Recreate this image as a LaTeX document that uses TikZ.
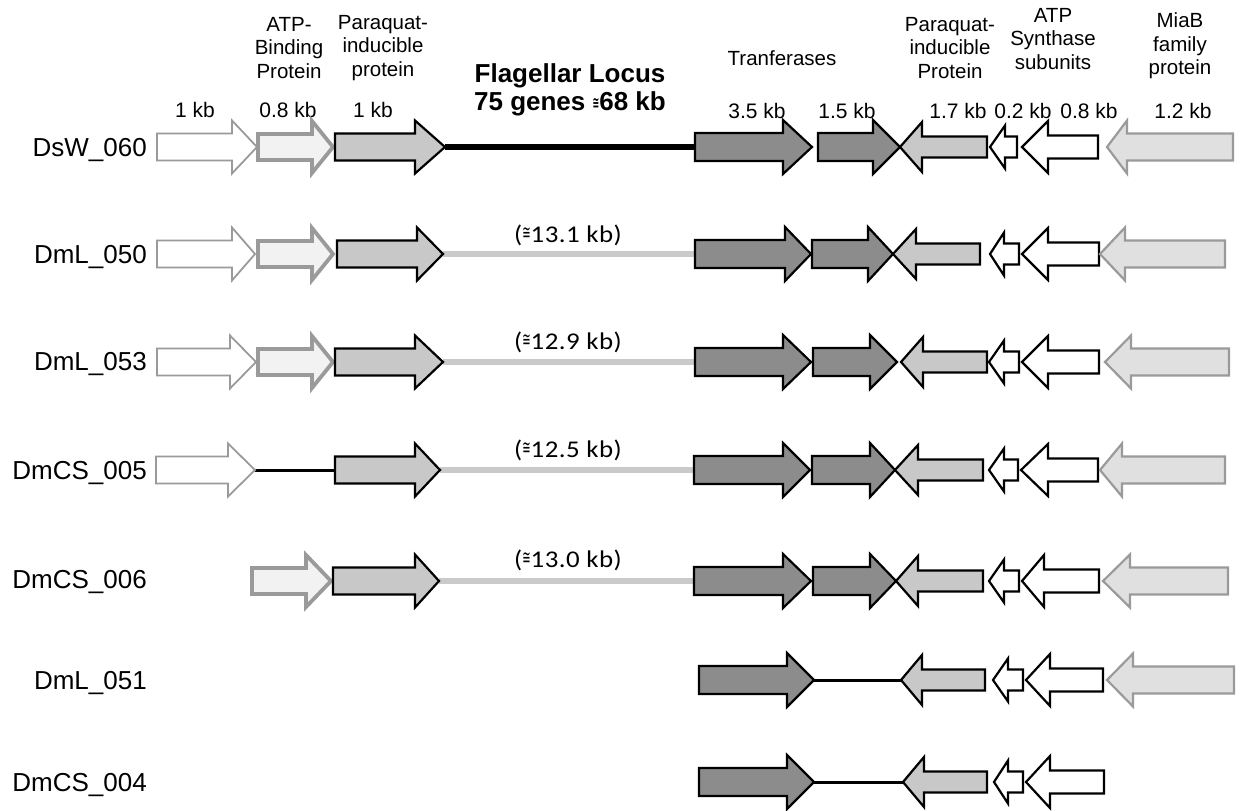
\documentclass[tikz,border=0pt]{standalone}
\usepackage{fontspec}
\usepackage{graphicx}
\setmainfont{Liberation Sans}
\newfontfamily\calfont[FakeStretch=1.12, LetterSpace=2]{Carlito}
\newfontfamily\dejavu{DejaVu Sans}
\usetikzlibrary{backgrounds}

% gene arrow: #1 name, #2 style, #3 tail x, #4 head-base x, #5 tip x, #6 y, #7 body half-height, #8 head half-height
\newcommand{\genearrow}[8]{%
  \draw[#2] (#3,#6-#7) -- (#4,#6-#7) -- (#4,#6-#8) -- (#5,#6) -- (#4,#6+#8)
    -- (#4,#6+#7) -- (#3,#6+#7) -- cycle;
  \coordinate (#1-tail) at (#3,#6);
  \coordinate (#1-tip) at (#5,#6);}
% narrow "approximately equal" sign: #1 size, #2 raise
\newcommand{\cg}[2]{\raisebox{#2}{\scalebox{0.5}[1]{\dejavu\fontsize{#1}{#1}\selectfont ≅}}}

\definecolor{transfill}{HTML}{8C8C8C}
\definecolor{parafill}{HTML}{C8C8C8}
\definecolor{bindfill}{HTML}{F2F2F2}
\definecolor{miabfill}{HTML}{E0E0E0}
\definecolor{softedge}{HTML}{9A9A9A}
\definecolor{gapgray}{HTML}{CACACA}

\tikzset{
  genewhite/.style={draw=softedge, line width=1.8pt, fill=white, line join=miter},
  genebind/.style={draw=softedge, line width=3.8pt, fill=bindfill, line join=miter},
  geneparaq/.style={draw=black, line width=2.2pt, fill=parafill, line join=miter},
  genetrans/.style={draw=black, line width=2.2pt, fill=transfill, line join=miter},
  genesynth/.style={draw=black, line width=2.2pt, fill=white, line join=miter},
  genemiab/.style={draw=softedge, line width=2.2pt, fill=miabfill, line join=miter},
  locusline/.style={draw=black, line width=6pt},
  gapline/.style={draw=gapgray, line width=6.5pt},
  linkline/.style={draw=black, line width=3pt},
  strain/.style={anchor=base east, inner sep=0pt, font=\fontsize{26}{28}\selectfont},
  kb/.style={anchor=base, inner sep=0pt, font=\fontsize{21}{24}\selectfont},
  head/.style={align=center, inner sep=0pt, font=\fontsize{20.5}{23.5}\selectfont},
  gaptext/.style={anchor=base, inner sep=0pt, font=\calfont\fontsize{24}{26}\selectfont},
}

\begin{document}
\begin{tikzpicture}[x=1pt, y=-1pt]
\useasboundingbox (0,0) rectangle (1243,811);

% ---------- headers ----------
\node[head] (hbind) at (289,48) {ATP-\\Binding\\Protein};
\node[head] (hparaL) at (383,48) {Paraquat-\\inducible\\protein};
\node[align=center, inner sep=0pt, font=\bfseries\fontsize{26}{28}\selectfont] (hflag) at (570,90)
  {Flagellar Locus\\75 genes \cg{16}{2pt}68 kb};
\node[head, anchor=base] (htrans) at (782,65) {Tranferases};
\node[head] (hparaR) at (950,48) {Paraquat-\\inducible\\Protein};
\node[head] (hsynth) at (1053,39) {ATP\\Synthase\\subunits};
\node[head] (hmiab) at (1180,46) {MiaB\\family\\protein};

\node[kb] (k1) at (195,117.5) {1 kb};
\node[kb] (k2) at (288,117.5) {0.8 kb};
\node[kb] (k3) at (373,117.5) {1 kb};
\node[kb] (k4) at (757,118) {3.5 kb};
\node[kb] (k5) at (847,118) {1.5 kb};
\node[kb] (k6) at (958,118) {1.7 kb};
\node[kb] (k7) at (1023,118) {0.2 kb};
\node[kb] (k8) at (1089,118) {0.8 kb};
\node[kb] (k9) at (1183,118) {1.2 kb};

% ---------- strain labels ----------
\node[strain] (s1) at (147,156) {DsW\_060};
\node[strain] (s2) at (147,263) {DmL\_050};
\node[strain] (s3) at (147,370) {DmL\_053};
\node[strain] (s4) at (147,479) {DmCS\_005};
\node[strain] (s5) at (147,588) {DmCS\_006};
\node[strain] (s6) at (147,689) {DmL\_051};
\node[strain] (s7) at (147,791) {DmCS\_004};

% ---------- gap sizes ----------
\node[gaptext] (g2) at (568,242) {(\cg{20}{3pt}13.1 kb)};
\node[gaptext] (g3) at (568,349) {(\cg{20}{3pt}12.9 kb)};
\node[gaptext] (g4) at (568,457) {(\cg{20}{3pt}12.5 kb)};
\node[gaptext] (g5) at (568,567) {(\cg{20}{3pt}13.0 kb)};

% ---------- row 1: DsW_060 ----------
\genearrow{a1w}{genewhite}{157}{232}{257}{147}{13.5}{26.5}
\genearrow{a1b}{genebind}{258}{312}{333}{147}{13}{26}
\genearrow{a1p}{geneparaq}{335}{415}{445}{147}{13.5}{26.5}
\genearrow{a1t}{genetrans}{695}{783}{812}{147}{14}{27}
\genearrow{a1u}{genetrans}{818}{873}{900}{147}{14}{27}
\genearrow{a1q}{geneparaq}{987}{922}{900}{147}{10.5}{25}
\genearrow{a1s}{genesynth}{1017}{1005}{990}{147}{10.5}{21.5}
\genearrow{a1v}{genesynth}{1098}{1048}{1022}{147}{11.5}{26}
\genearrow{a1m}{genemiab}{1233}{1127}{1107}{147}{13.5}{26.5}

% ---------- row 2: DmL_050 ----------
\genearrow{a2w}{genewhite}{157}{232}{255}{254}{13.5}{26.5}
\genearrow{a2b}{genebind}{258}{312}{333}{254}{13}{26}
\genearrow{a2p}{geneparaq}{337}{417}{443}{254}{13.5}{26.5}
\genearrow{a2t}{genetrans}{695}{785}{811}{254}{14}{27}
\genearrow{a2u}{genetrans}{812}{868}{893}{254}{14}{27}
\genearrow{a2q}{geneparaq}{980}{916}{893}{254}{10.5}{25}
\genearrow{a2s}{genesynth}{1019}{1004}{990}{254}{10.5}{21.5}
\genearrow{a2v}{genesynth}{1099}{1048}{1022}{254}{11.5}{26}
\genearrow{a2m}{genemiab}{1225}{1125}{1100}{254}{13.5}{26.5}

% ---------- row 3: DmL_053 ----------
\genearrow{a3w}{genewhite}{157}{230}{256}{362}{13.5}{26.5}
\genearrow{a3b}{genebind}{258}{312}{333}{362}{13}{26}
\genearrow{a3p}{geneparaq}{335}{415}{443}{362}{13.5}{26.5}
\genearrow{a3t}{genetrans}{695}{783}{811}{362}{14}{27}
\genearrow{a3u}{genetrans}{813}{870}{897}{362}{14}{27}
\genearrow{a3q}{geneparaq}{987}{923}{901}{362}{10.5}{25}
\genearrow{a3s}{genesynth}{1019}{1004}{989}{362}{10.5}{21.5}
\genearrow{a3v}{genesynth}{1099}{1048}{1022}{362}{11.5}{26}
\genearrow{a3m}{genemiab}{1229}{1131}{1105}{362}{13.5}{26.5}

% ---------- row 4: DmCS_005 ----------
\genearrow{a4w}{genewhite}{156}{228}{255}{470}{13.5}{26.5}
\genearrow{a4p}{geneparaq}{335}{415}{440}{470}{13.5}{26.5}
\genearrow{a4t}{genetrans}{694}{783}{810}{470}{14}{27}
\genearrow{a4u}{genetrans}{812}{870}{895}{470}{14}{27}
\genearrow{a4q}{geneparaq}{983}{918}{895}{470}{10.5}{25}
\genearrow{a4s}{genesynth}{1018}{1004}{989}{470}{10.5}{21.5}
\genearrow{a4v}{genesynth}{1098}{1048}{1021}{470}{11.5}{26}
\genearrow{a4m}{genemiab}{1225}{1122}{1100}{470}{13.5}{26.5}

% ---------- row 5: DmCS_006 ----------
\genearrow{a5b}{genebind}{252}{306}{331}{581}{13}{26}
\genearrow{a5p}{geneparaq}{333}{415}{439}{581}{13.5}{26.5}
\genearrow{a5t}{genetrans}{694}{783}{811}{581}{14}{27}
\genearrow{a5u}{genetrans}{813}{870}{896}{581}{14}{27}
\genearrow{a5q}{geneparaq}{983}{918}{896}{581}{10.5}{25}
\genearrow{a5s}{genesynth}{1019}{1004}{989}{581}{10.5}{21.5}
\genearrow{a5v}{genesynth}{1099}{1044}{1022}{581}{11.5}{26}
\genearrow{a5m}{genemiab}{1228}{1130}{1103}{581}{13.5}{26.5}

% ---------- row 6: DmL_051 ----------
\genearrow{a6t}{genetrans}{699}{787}{814}{680}{14}{27}
\genearrow{a6q}{geneparaq}{985}{922}{901}{680}{10.5}{25}
\genearrow{a6s}{genesynth}{1023}{1008}{993}{680}{10.5}{21.5}
\genearrow{a6v}{genesynth}{1103}{1050}{1026}{680}{11.5}{26}
\genearrow{a6m}{genemiab}{1234}{1133}{1107}{680}{13.5}{26.5}

% ---------- row 7: DmCS_004 ----------
\genearrow{a7t}{genetrans}{699}{787}{814}{782}{14}{27}
\genearrow{a7q}{geneparaq}{987}{924}{903}{782}{10.5}{25}
\genearrow{a7s}{genesynth}{1023}{1008}{994}{782}{10.5}{21.5}
\genearrow{a7v}{genesynth}{1104}{1050}{1026}{782}{11.5}{26}

% ---------- intergenic connectors (behind the genes) ----------
\begin{pgfonlayer}{background}
  \draw[locusline] (a1p-tip) -- (a1t-tail);
  \draw[gapline] (a2p-tip) -- (a2t-tail);
  \draw[gapline] (a3p-tip) -- (a3t-tail);
  \draw[linkline] (a4w-tip) -- (a4p-tail);
  \draw[gapline] (a4p-tip) -- (a4t-tail);
  \draw[gapline] (a5p-tip) -- (a5t-tail);
  \draw[linkline] (a6t-tip) -- (a6q-tip);
  \draw[linkline] (a7t-tip) -- (a7q-tip);
\end{pgfonlayer}
\end{tikzpicture}
\end{document}
